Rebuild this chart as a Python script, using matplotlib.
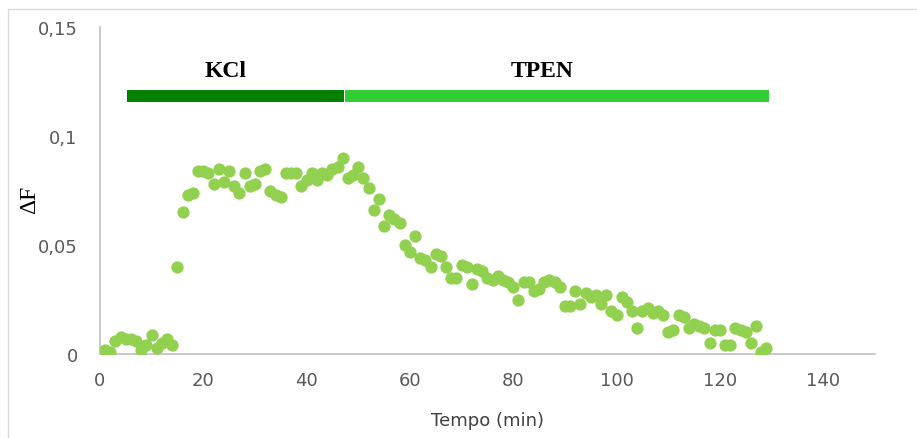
import numpy as np
import matplotlib
matplotlib.use("Agg")
import matplotlib.pyplot as plt
from matplotlib.patches import Rectangle
from matplotlib.ticker import FixedLocator, FixedFormatter

# fluorescence change sampled once per minute
tempo = list(range(1, 130))
delta_f = [
    0.002, 0.001, 0.006, 0.008, 0.007, 0.007, 0.006, 0.002, 0.004, 0.009,
    0.003, 0.005, 0.007, 0.004, 0.040, 0.065, 0.073, 0.074, 0.084, 0.084,
    0.083, 0.078, 0.085, 0.079, 0.084, 0.077, 0.074, 0.083, 0.077, 0.078,
    0.084, 0.085, 0.075, 0.073, 0.072, 0.083, 0.083, 0.083, 0.077, 0.080,
    0.083, 0.080, 0.083, 0.082, 0.085, 0.086, 0.090, 0.081, 0.082, 0.086,
    0.081, 0.076, 0.066, 0.071, 0.059, 0.064, 0.062, 0.060, 0.050, 0.047,
    0.054, 0.044, 0.043, 0.040, 0.046, 0.045, 0.040, 0.035, 0.035, 0.041,
    0.040, 0.032, 0.039, 0.038, 0.035, 0.034, 0.036, 0.034, 0.033, 0.031,
    0.025, 0.033, 0.033, 0.029, 0.030, 0.033, 0.034, 0.033, 0.031, 0.022,
    0.022, 0.029, 0.023, 0.028, 0.026, 0.027, 0.023, 0.027, 0.020, 0.018,
    0.026, 0.024, 0.020, 0.012, 0.020, 0.021, 0.019, 0.020, 0.018, 0.010,
    0.011, 0.018, 0.017, 0.012, 0.014, 0.013, 0.012, 0.005, 0.011, 0.011,
    0.004, 0.004, 0.012, 0.011, 0.010, 0.005, 0.013, 0.001, 0.003,
]

# treatment periods (start, end in minutes)
treatments = ["KCl", "TPEN"]
treat_start = [5.2, 47.5]
treat_end = [47.3, 129.5]
treat_colors = ["#008000", "#32CD32"]
label_x = [24.3, 85.6]

x_ticks = [0, 20, 40, 60, 80, 100, 120, 140]
y_ticks = [0, 0.05, 0.1, 0.15]
y_labels = ["0", "0,05", "0,1", "0,15"]

fig = plt.figure(figsize=(9.17, 4.39), dpi=100)
ax = fig.add_axes([0.109, 0.191, 0.845, 0.745])

# outer chart border
fig.patches.append(Rectangle((8 / 917, -0.1), 1.0, 1.1 - 10 / 439,
                             transform=fig.transFigure, fill=False,
                             edgecolor="#D9D9D9", linewidth=1.0))

ax.scatter(tempo, delta_f, s=78, color="#92D050", zorder=3, linewidths=0)

for name, a, b, c, lx in zip(treatments, treat_start, treat_end,
                             treat_colors, label_x):
    ax.plot([a, b], [0.1183, 0.1183], color=c, linewidth=8.6,
            solid_capstyle="butt", zorder=2)
    ax.text(lx, 0.130, name, ha="center", va="center", fontsize=17,
            fontweight="bold", family="Liberation Serif")

ax.set_xlim(0, 150)
ax.set_ylim(0, 0.15)
ax.xaxis.set_major_locator(FixedLocator(x_ticks))
ax.yaxis.set_major_locator(FixedLocator(y_ticks))
ax.yaxis.set_major_formatter(FixedFormatter(y_labels))
ax.tick_params(length=0, labelsize=13, labelcolor="#595959")
ax.tick_params(axis="y", pad=16)
ax.tick_params(axis="x", pad=12)

for side in ["top", "right"]:
    ax.spines[side].set_visible(False)
ax.spines["left"].set_color("#BFBFBF")
ax.spines["bottom"].set_color("#BFBFBF")
ax.spines["left"].set_linewidth(1.2)
ax.spines["bottom"].set_linewidth(1.2)

ax.set_xlabel("Tempo (min)", fontsize=13, color="#404040", labelpad=16)
fig.text(30 / 917, 1 - 200 / 439, "ΔF", rotation=90, ha="center",
         va="center", fontsize=17, family="Liberation Serif")

fig.savefig("out.png", dpi=100)
